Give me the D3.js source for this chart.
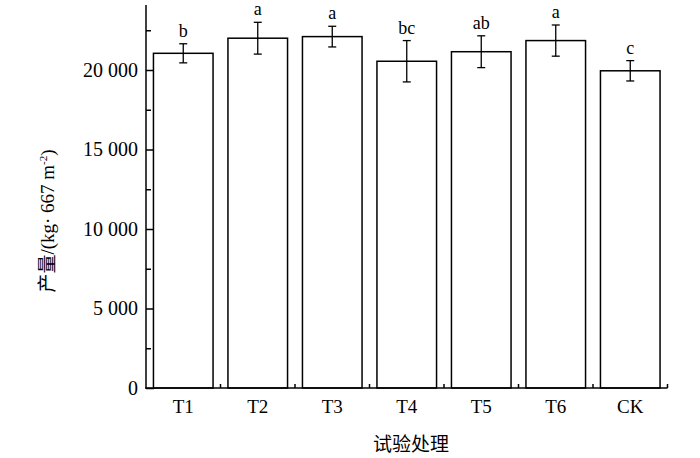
<!DOCTYPE html>
<html><head><meta charset="utf-8">
<script src="https://cdn.jsdelivr.net/npm/d3@7"></script>
<style>body{margin:0;background:#fff}svg{display:block}</style>
</head><body>
<script>
const categories = ["T1","T2","T3","T4","T5","T6","CK"];
const values = [21050, 22000, 22100, 20550, 21150, 21850, 19950];
const errors = [600, 1000, 650, 1300, 1000, 980, 640];
const letters = ["b","a","a","bc","ab","a","c"];
const yTicks = [0, 5000, 10000, 15000, 20000];
const yMinorTicks = [2500, 7500, 12500, 17500, 22500];

const W = 700, H = 458;
const font = "'Liberation Serif','Times New Roman','Noto Sans CJK SC',serif";
const svg = d3.select("body").append("svg").attr("width", W).attr("height", H);

const x0 = 146, x1 = 667.5, yB = 388;
const y = d3.scaleLinear().domain([0, 24000]).range([yB, 6.4]);
const x = d3.scaleBand().domain(categories).range([x0, x1]).paddingInner(0.2).paddingOuter(0.1);
const step = x.step();

// bars
svg.append("g").selectAll("rect").data(categories).join("rect")
  .attr("x", d => x(d)).attr("width", x.bandwidth())
  .attr("y", (d,i) => y(values[i])).attr("height", (d,i) => yB - y(values[i]))
  .attr("fill", "#fff").attr("stroke", "#000").attr("stroke-width", 1.5);

// error bars
const eg = svg.append("g").attr("stroke", "#000").attr("stroke-width", 1.3);
categories.forEach((c,i) => {
  const cx = x(c) + x.bandwidth()/2;
  const t = y(values[i] + errors[i]), b = y(values[i] - errors[i]);
  eg.append("line").attr("x1", cx).attr("x2", cx).attr("y1", t).attr("y2", b);
  eg.append("line").attr("x1", cx-4).attr("x2", cx+4).attr("y1", t).attr("y2", t);
  eg.append("line").attr("x1", cx-4).attr("x2", cx+4).attr("y1", b).attr("y2", b);
});

// letters
svg.append("g").selectAll("text").data(categories).join("text")
  .attr("x", d => x(d) + x.bandwidth()/2)
  .attr("y", (d,i) => y(values[i] + errors[i]) - 7)
  .attr("text-anchor", "middle").attr("font-family", font).attr("font-size", 18)
  .text((d,i) => letters[i]);

// y axis
const ya = svg.append("g").attr("transform", `translate(${x0},0)`)
  .call(d3.axisLeft(y).tickValues(yTicks).tickSize(-8).tickPadding(8).tickFormat(v => v===0?"0":(Math.floor(v/1000)+" 000")));
ya.select(".domain").attr("d", `M0,${yB}V5`).attr("stroke-width", 1.5);
ya.selectAll(".tick line").attr("stroke-width", 1.5);
ya.selectAll("text").attr("font-family", font).attr("font-size", 20).attr("fill", "#000");
const ym = svg.append("g").attr("transform", `translate(${x0},0)`)
  .call(d3.axisLeft(y).tickValues(yMinorTicks).tickSize(-5).tickFormat(""));
ym.select(".domain").remove();
ym.selectAll(".tick line").attr("stroke-width", 1.5);

// x axis
const xa = svg.append("g").attr("transform", `translate(0,${yB})`)
  .call(d3.axisBottom(x).tickSize(0).tickPadding(12));
xa.select(".domain").attr("d", `M${x0-1},0H${x1}`).attr("stroke-width", 1.5);
xa.selectAll("text").attr("font-family", font).attr("font-size", 19).attr("fill", "#000");
// boundary ticks pointing up
svg.append("g").selectAll("line").data(categories).join("line")
  .attr("x1", d => x(d) - x.paddingOuter()*step + step).attr("x2", d => x(d) - x.paddingOuter()*step + step)
  .attr("y1", yB).attr("y2", yB - 4).attr("stroke", "#000").attr("stroke-width", 1.5);

// x title
svg.append("text").attr("x", 411).attr("y", 451).attr("text-anchor", "middle")
  .attr("font-family", "'Noto Sans CJK SC',sans-serif").attr("font-size", 19).text("试验处理");

// y title
const yt = svg.append("text").attr("transform", "translate(54,221) rotate(-90)")
  .attr("text-anchor", "middle").attr("font-family", font).attr("font-size", 19);
yt.append("tspan").attr("font-family", "'Noto Sans CJK SC',sans-serif").text("产量");
yt.append("tspan").text("/(kg· 667 m");
yt.append("tspan").attr("font-size", 11).attr("dy", -7).text("-2");
yt.append("tspan").attr("dy", 7).text(")");
</script>
</body></html>
